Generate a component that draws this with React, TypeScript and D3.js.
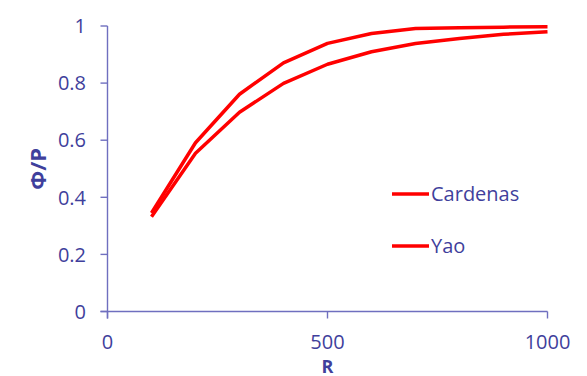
import React from "react";
import * as d3 from "d3";

const rValues = [100, 200, 300, 400, 500, 600, 700, 800, 900, 1000];
const cardenas = [0.345, 0.591, 0.761, 0.871, 0.939, 0.974, 0.991, 0.994, 0.996, 0.997];
const yao = [0.332, 0.554, 0.698, 0.799, 0.866, 0.91, 0.939, 0.956, 0.971, 0.98];
const xTicks = [0, 500, 1000];
const yTicks = [0, 0.2, 0.4, 0.6, 0.8, 1];
const seriesNames = ["Cardenas", "Yao"];

const W = 587;
const H = 376;
const textColor = "#3f3f9c";
const axisColor = "#6f6fbf";
const lineColor = "#ff0000";
const font = "'Open Sans', sans-serif";

export default function App() {
  const x = d3.scaleLinear().domain([0, 1000]).range([107.5, 547.5]);
  const y = d3.scaleLinear().domain([0, 1]).range([311.5, 26]);
  const line = d3
    .line<[number, number]>()
    .x((d) => x(d[0]))
    .y((d) => y(d[1]));
  const series = [cardenas, yao];
  const legendY = [194, 246];

  return (
    <svg
      width={W}
      height={H}
      style={{ position: "absolute", left: 0, top: 0, background: "#fff" }}
    >
      {/* axes */}
      <line x1={x(0)} x2={x(0)} y1={y(1)} y2={y(0) + 7} stroke={axisColor} strokeWidth={1.4} />
      <line x1={x(0) - 7} x2={x(1000)} y1={y(0)} y2={y(0)} stroke={axisColor} strokeWidth={1.4} />
      {yTicks.map((t) => (
        <g key={"y" + t}>
          <line x1={x(0) - 7} x2={x(0)} y1={y(t)} y2={y(t)} stroke={axisColor} strokeWidth={1.4} />
          <text
            x={86}
            y={y(t)}
            dy="0.36em"
            textAnchor="end"
            fontFamily={font}
            fontSize={20}
            fill={textColor}
          >
            {String(t)}
          </text>
        </g>
      ))}
      {xTicks.map((t) => (
        <g key={"x" + t}>
          <line x1={x(t)} x2={x(t)} y1={y(0)} y2={y(0) + 7} stroke={axisColor} strokeWidth={1.4} />
          <text
            x={x(t)}
            y={348.5}
            textAnchor="middle"
            fontFamily={font}
            fontSize={20}
            fill={textColor}
          >
            {String(t)}
          </text>
        </g>
      ))}
      <text
        x={x(500)}
        y={372.5}
        textAnchor="middle"
        fontFamily={font}
        fontWeight="bold"
        fontSize={18}
        fill={textColor}
      >
        R
      </text>
      <text
        transform={`translate(46, ${(y(0) + y(1)) / 2}) rotate(-90)`}
        textAnchor="middle"
        fontFamily={font}
        fontWeight="bold"
        fontSize={22}
        fill={textColor}
      >
        Φ/P
      </text>
      {/* lines */}
      {series.map((s, i) => (
        <path
          key={"s" + i}
          d={line(rValues.map((r, j) => [r, s[j]] as [number, number])) || ""}
          fill="none"
          stroke={lineColor}
          strokeWidth={3.5}
          strokeLinejoin="round"
        />
      ))}
      {/* legend */}
      {seriesNames.map((n, i) => (
        <g key={"l" + n}>
          <line x1={392} x2={429} y1={legendY[i]} y2={legendY[i]} stroke={lineColor} strokeWidth={3.5} />
          <text
            x={431}
            y={legendY[i]}
            dy="0.36em"
            fontFamily={font}
            fontSize={20}
            fill={textColor}
          >
            {n}
          </text>
        </g>
      ))}
    </svg>
  );
}
